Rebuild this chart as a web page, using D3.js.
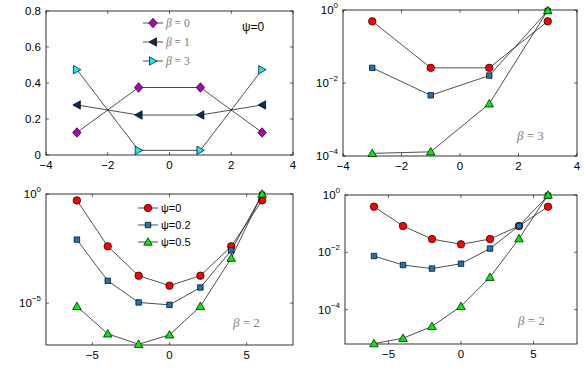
<!DOCTYPE html>
<html>
<head>
<meta charset="utf-8">
<script src="https://cdn.jsdelivr.net/npm/d3@7"></script>
<style>
  body { margin: 0; background: #fff; }
  svg { font-family: "Liberation Sans", Arial, sans-serif; }
</style>
</head>
<body>
<svg id="svg1" width="584" height="375"></svg>
<script>
// data
const xTop = [-3, -1, 1, 3];
const xBottom = [-6, -4, -2, 0, 2, 4, 6];

const betaLabels = ["0", "1", "3"];
const betaZero = [0.125, 0.375, 0.375, 0.125];
const betaOne = [0.278, 0.222, 0.222, 0.278];
const betaThree = [0.474, 0.026, 0.026, 0.474];

const psiLabels = ["ψ=0", "ψ=0.2", "ψ=0.5"];
// beta = 3, top right
const b3Psi0 = [0.49, 0.026, 0.026, 0.49];
const b3Psi02 = [0.026, 0.0046, 0.016, 0.95];
const b3Psi05 = [1.18e-4, 1.3e-4, 2.7e-3, 0.97];
// beta = 2, bottom left
const b2aPsi0 = [0.51, 4.0e-3, 1.8e-4, 6.3e-5, 1.8e-4, 4.0e-3, 0.51];
const b2aPsi02 = [8.1e-3, 1.05e-4, 1.07e-5, 8.3e-6, 5.2e-5, 2.6e-3, 0.93];
const b2aPsi05 = [7.1e-6, 3.9e-7, 1.3e-7, 3.5e-7, 7.1e-6, 1.15e-3, 1.0];
// beta = 2, bottom right
const b2bPsi0 = [0.39, 0.083, 0.029, 0.019, 0.029, 0.083, 0.39];
const b2bPsi02 = [7.4e-3, 3.6e-3, 2.7e-3, 4.0e-3, 0.0135, 0.083, 0.95];
const b2bPsi05 = [6.5e-6, 1.0e-5, 2.6e-5, 1.3e-4, 1.35e-3, 0.030, 1.0];

const svg = d3.select('#svg1');

// marker fills
const markers = {
  diamond: "#b400b4",
  left: "#0d2a5e",
  right: "#19e8f0",
  circle: "#ff0000",
  square: "#1f74b8",
  triangle: "#00ee00"
};

function markerPath(kind) {
  if (kind === "diamond") return "M0,-4.8L4.2,0L0,4.8L-4.2,0Z";
  if (kind === "left") return "M-4,0L3.5,-4.2L3.5,4.2Z";
  if (kind === "right") return "M4,0L-3.5,-4.2L-3.5,4.2Z";
  if (kind === "triangle") return "M0,-4.3L4.3,3.2L-4.3,3.2Z";
  if (kind === "square") return d3.symbol().type(d3.symbolSquare).size(30)();
  return d3.symbol().type(d3.symbolCircle).size(44)();
}

function drawMarker(g, kind, cx, cy) {
  g.append("path")
    .attr("d", markerPath(kind))
    .attr("transform", "translate(" + cx + "," + cy + ")")
    .attr("fill", markers[kind])
    .attr("stroke", "#000")
    .attr("stroke-width", 0.7);
}

function panel(o) {
  const g = svg.append("g");
  const x = d3.scaleLinear().domain(o.xdom).range([o.left, o.right]);
  const y = (o.log ? d3.scaleLog() : d3.scaleLinear()).domain(o.ydom).range([o.bottom, o.top]);

  // box
  g.append("rect")
    .attr("x", o.left).attr("y", o.top)
    .attr("width", o.right - o.left).attr("height", o.bottom - o.top)
    .attr("fill", "none").attr("stroke", "#000").attr("stroke-width", 0.8);

  // ticks, pointing inward on all four sides
  const tl = 3;
  o.xticks.forEach(function(t) {
    const px = x(t);
    g.append("line").attr("x1", px).attr("x2", px).attr("y1", o.bottom).attr("y2", o.bottom - tl).attr("stroke", "#000").attr("stroke-width", 0.6);
    g.append("line").attr("x1", px).attr("x2", px).attr("y1", o.top).attr("y2", o.top + tl).attr("stroke", "#000").attr("stroke-width", 0.6);
    g.append("text").attr("x", px).attr("y", o.bottom + 14)
      .attr("text-anchor", "middle").attr("font-size", 11.5)
      .text(String(t).replace("-", "\u2212"));
  });
  o.yticks.forEach(function(t) {
    const py = y(t);
    g.append("line").attr("x1", o.left).attr("x2", o.left + tl).attr("y1", py).attr("y2", py).attr("stroke", "#000").attr("stroke-width", 0.6);
    g.append("line").attr("x1", o.right).attr("x2", o.right - tl).attr("y1", py).attr("y2", py).attr("stroke", "#000").attr("stroke-width", 0.6);
    const lab = g.append("text").attr("x", o.left - 5).attr("y", py + 4)
      .attr("text-anchor", "end").attr("font-size", 11.5);
    if (o.log) {
      const e = Math.round(Math.log10(t));
      lab.append("tspan").text("10");
      lab.append("tspan").attr("dy", -6).attr("font-size", 8).text(String(e).replace("-", "\u2212"));
    } else {
      lab.text(t === 0 ? "0" : t.toFixed(1));
    }
  });

  // series: line first, then markers
  o.series.forEach(function(s) {
    const pts = o.xs.map(function(v, i) { return [x(v), y(s.values[i])]; });
    g.append("path")
      .attr("d", d3.line()(pts))
      .attr("fill", "none").attr("stroke", "#000").attr("stroke-width", 0.7);
    pts.forEach(function(p) { drawMarker(g, s.marker, p[0], p[1]); });
  });

  // legend
  if (o.legend) {
    o.series.forEach(function(s, i) {
      const ly = o.legend.y + i * o.legend.dy;
      const lx = o.legend.x;
      g.append("line").attr("x1", lx).attr("x2", lx + 20).attr("y1", ly).attr("y2", ly)
        .attr("stroke", "#000").attr("stroke-width", 0.7);
      drawMarker(g, s.marker, lx + 10, ly);
      const t = g.append("text").attr("x", lx + 23).attr("y", ly + 4);
      if (o.legend.beta) {
        t.attr("fill", "#777").attr("font-family", "'Liberation Serif', 'DejaVu Serif', serif").attr("font-size", 11.5);
        t.append("tspan").attr("font-style", "italic").text("β");
        t.append("tspan").text(" = " + s.label);
      } else {
        t.attr("font-size", 11).text(s.label);
      }
    });
  }

  // note inside the panel
  if (o.note) {
    const t = g.append("text").attr("x", o.note.x).attr("y", o.note.y);
    if (o.note.beta) {
      t.attr("fill", "#808080").attr("font-family", "'Liberation Serif', 'DejaVu Serif', serif").attr("font-size", 13);
      t.append("tspan").attr("font-style", "italic").text("β");
      t.append("tspan").text(" = " + o.note.text);
    } else {
      t.attr("font-size", 12).text(o.note.text);
    }
  }
}

// top left: linear, psi = 0
panel({
  left: 46, right: 293, top: 11, bottom: 155,
  xdom: [-4, 4], ydom: [0, 0.8], log: false,
  xticks: [-4, -2, 0, 2, 4], yticks: [0, 0.2, 0.4, 0.6, 0.8],
  xs: xTop,
  series: [
    {values: betaZero, marker: "diamond", label: betaLabels[0]},
    {values: betaOne, marker: "left", label: betaLabels[1]},
    {values: betaThree, marker: "right", label: betaLabels[2]}
  ],
  legend: {x: 143, y: 23, dy: 19, beta: true},
  note: {x: 242, y: 31, text: "ψ=0"}
});

// top right: log, beta = 3
panel({
  left: 343, right: 577, top: 10, bottom: 156,
  xdom: [-4, 4], ydom: [1e-4, 1], log: true,
  xticks: [-4, -2, 0, 2, 4], yticks: [1e-4, 1e-2, 1],
  xs: xTop,
  series: [
    {values: b3Psi0, marker: "circle"},
    {values: b3Psi02, marker: "square"},
    {values: b3Psi05, marker: "triangle"}
  ],
  note: {x: 517, y: 140, text: "3", beta: true}
});

// bottom left: log, beta = 2
panel({
  left: 46, right: 293, top: 194, bottom: 345,
  xdom: [-8, 8], ydom: [1.2e-7, 1], log: true,
  xticks: [-5, 0, 5], yticks: [1e-5, 1],
  xs: xBottom,
  series: [
    {values: b2aPsi0, marker: "circle", label: psiLabels[0]},
    {values: b2aPsi02, marker: "square", label: psiLabels[1]},
    {values: b2aPsi05, marker: "triangle", label: psiLabels[2]}
  ],
  legend: {x: 138, y: 208, dy: 17, beta: false},
  note: {x: 233, y: 327, text: "2", beta: true}
});

// bottom right: log, beta = 2
panel({
  left: 345, right: 577, top: 195, bottom: 344,
  xdom: [-8, 8], ydom: [6.3e-6, 1], log: true,
  xticks: [-5, 0, 5], yticks: [1e-4, 1e-2, 1],
  xs: xBottom,
  series: [
    {values: b2bPsi0, marker: "circle"},
    {values: b2bPsi02, marker: "square"},
    {values: b2bPsi05, marker: "triangle"}
  ],
  note: {x: 518, y: 325, text: "2", beta: true}
});
</script>
</body>
</html>
